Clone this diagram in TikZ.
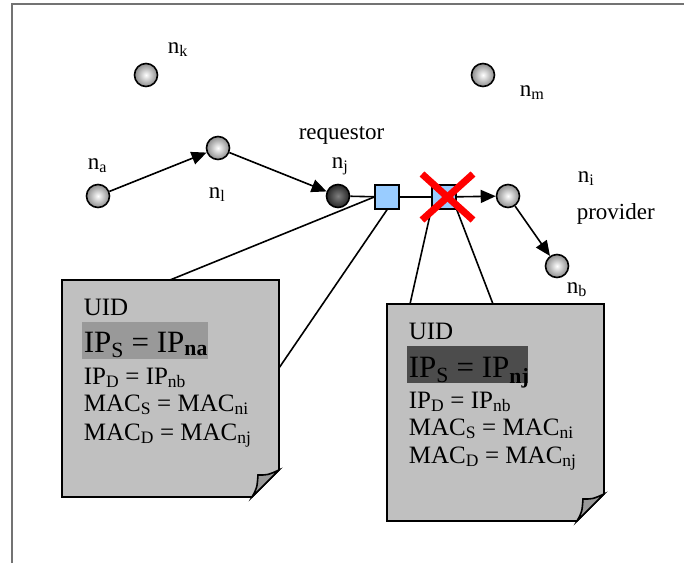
\documentclass[tikz,border=0pt]{standalone}
\usepackage{fontspec}
\setmainfont{Liberation Serif}
\usetikzlibrary{arrows.meta}

\definecolor{wirefill}{HTML}{99CCFF}
\definecolor{paper}{HTML}{C0C0C0}

\begin{document}
\begin{tikzpicture}[x=1pt, y=-1pt, line width=1.6pt,
        host/.style={circle, draw, minimum size=23pt, inner sep=0pt, inner color=white, outer color=gray!90},
        darkhost/.style={host, inner color=black!50, outer color=black!85},
        wire/.style={rectangle, draw, fill=wirefill, minimum size=24pt, inner sep=0pt},
        lbl/.style={anchor=base west, inner sep=0pt, font=\fontsize{23}{27}\selectfont},
        docline/.style={anchor=base west, inner sep=0pt, font=\fontsize{25}{30}\selectfont},
        bigline/.style={anchor=base west, inner sep=0pt, font=\fontsize{31}{36}\selectfont},
        hop/.style={-{Triangle[length=15pt, width=13pt]}}]
        \useasboundingbox (0, 0) rectangle (684, 563);
        \draw[black!55, line width=2pt] (12, 563) -- (12, 4) -- (684, 4);

        \node[host] (nk) at (146, 75) {};
        \node[host] (nm) at (483, 75) {};
        \node[host] (na) at (98, 196) {};
        \node[host] (nl) at (218, 148) {};
        \node[darkhost] (nj) at (338, 196) {};
        \node[wire] (sqa) at (387, 197) {};
        \node[wire] (sqb) at (444, 197) {};
        \node[host] (ni) at (508, 196) {};
        \node[host] (nb) at (557, 266) {};

        \node[lbl] (nk-lbl) at (167, 53) {n\textsubscript{k}};
        \node[lbl] (nm-lbl) at (519, 96) {n\textsubscript{m}};
        \node[lbl] (na-lbl) at (87, 169) {n\textsubscript{a}};
        \node[lbl] (nl-lbl) at (208, 198) {n\textsubscript{l}};
        \node[lbl] (req-lbl) at (298, 139) {requestor};
        \node[lbl] (nj-lbl) at (331, 168) {n\textsubscript{j}};
        \node[lbl] (ni-lbl) at (577, 182) {n\textsubscript{i}};
        \node[lbl] (prov-lbl) at (576, 219) {provider};
        \node[lbl] (nb-lbl) at (566, 293) {n\textsubscript{b}};

        \draw[hop] (na) -- (nl);
        \draw[hop] (nl) -- (nj);
        \draw (nj) -- (sqa);
        \draw (sqa) -- (sqb);
        \draw[hop] (sqb) -- (ni);
        \draw[hop] (ni) -- (nb);

        % packet seen before the hop
        \begin{scope}
            \filldraw[fill=paper] (62, 280) -- (279, 280) -- (279, 470) -- (252, 497) -- (62, 497) -- cycle;
            \filldraw[fill=gray!80] (252, 497) .. controls (257, 488) .. (258, 475) .. controls (268, 475) .. (279, 470) -- cycle;
            \fill[gray!80] (82, 322) rectangle (208, 359);
            \coordinate (doca-top) at (170, 280);
            \coordinate (doca-side) at (279, 368);
            \node[docline] (uida) at (83, 315) {UID};
            \node[bigline] (ipsa) at (83, 352) {IP\textsubscript{S} = IP\textsubscript{\textbf{na}}};
            \node[docline] (ipda) at (83, 384) {IP\textsubscript{D} = IP\textsubscript{nb}};
            \node[docline] (macsa) at (83, 411) {MAC\textsubscript{S} = MAC\textsubscript{ni}};
            \node[docline] (macda) at (83, 440) {MAC\textsubscript{D} = MAC\textsubscript{nj}};
        \end{scope}

        % packet seen after the hop
        \begin{scope}[shift={(325, 24)}]
            \filldraw[fill=paper] (62, 280) -- (279, 280) -- (279, 470) -- (252, 497) -- (62, 497) -- cycle;
            \filldraw[fill=gray!80] (252, 497) .. controls (257, 488) .. (258, 475) .. controls (268, 475) .. (279, 470) -- cycle;
            \fill[black!70] (82, 322) rectangle (203, 359);
            \coordinate (docb-left) at (85, 280);
            \coordinate (docb-right) at (168, 280);
            \node[docline] (uidb) at (83, 315) {UID};
            \node[bigline] (ipsb) at (83, 353) {IP\textsubscript{S} = IP\textsubscript{\textbf{nj}}};
            \node[docline] (ipdb) at (83, 384) {IP\textsubscript{D} = IP\textsubscript{nb}};
            \node[docline] (macsb) at (83, 411) {MAC\textsubscript{S} = MAC\textsubscript{ni}};
            \node[docline] (macdb) at (83, 439) {MAC\textsubscript{D} = MAC\textsubscript{nj}};
        \end{scope}

        \draw (sqa.west) -- (doca-top);
        \draw (sqa.south) -- (doca-side);
        \draw (sqb.south west) -- (docb-left);
        \draw (sqb.south east) -- (docb-right);

        \draw[red, line width=7pt] (422, 174) -- (473, 220);
        \draw[red, line width=7pt] (422, 220) -- (473, 174);
    \end{tikzpicture}
\end{document}
